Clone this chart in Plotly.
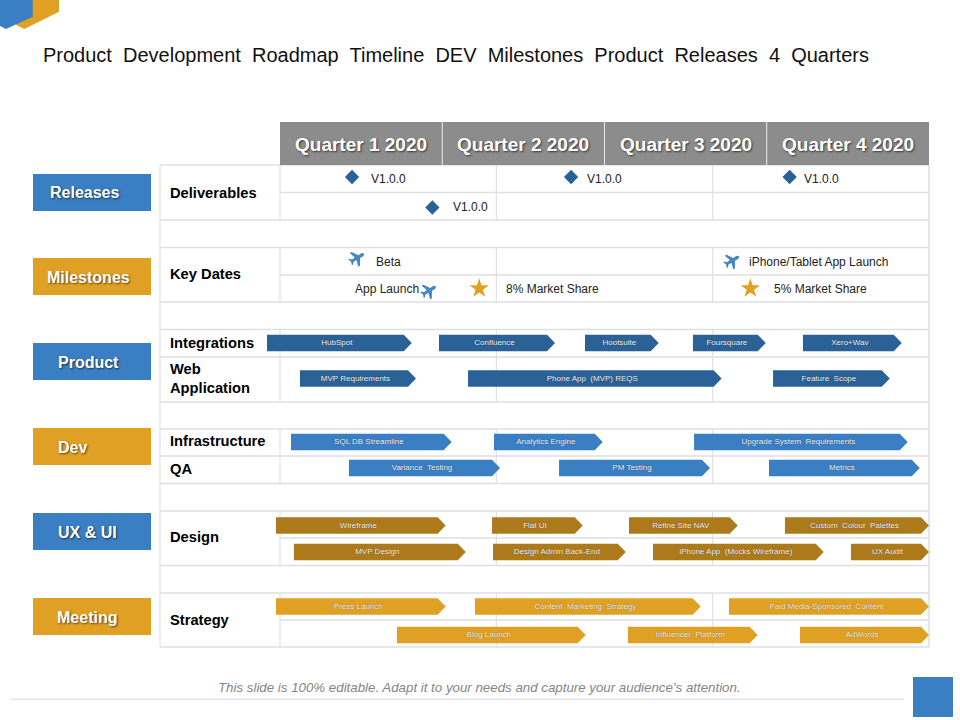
import math
import plotly.graph_objects as go

# quarters across the timeline
quarters = ["Quarter 1 2020", "Quarter 2 2020", "Quarter 3 2020", "Quarter 4 2020"]

# workstreams on the left
streams = ["Releases", "Milestones", "Product", "Dev", "UX &amp; UI", "Meeting"]
row_names = ["Deliverables", "Key Dates", "Integrations", "Web<br>Application", "Infrastructure", "QA", "Design", "Strategy"]

# tasks, start and end are in quarters from the start of 2020
task_names = [
    "HubSpot", "Confluence", "Hootsuite", "Foursquare", "Xero+Wav",
    "MVP Requirements", "Phone App  (MVP) REQS", "Feature  Scope",
    "SQL DB Streamline", "Analytics Engine", "Upgrade System  Requirements",
    "Variance  Testing", "PM Testing", "Metrics",
    "Wireframe", "Flat UI", "Refine Site NAV", "Custom  Colour  Palettes",
    "MVP Design", "Design Admin Back-End", "iPhone App  (Mocks Wireframe)", "UX Audit",
    "Press Launch", "Content  Marketing  Strategy", "Paid Media-Sponsored  Content",
    "Blog Launch", "Influencer  Platform", "AdWords",
]
task_start = [
    -0.080, 0.980, 1.880, 2.545, 3.223,
    0.123, 1.159, 3.039,
    0.068, 1.319, 2.552,
    0.425, 1.720, 3.014,
    -0.025, 1.307, 2.151, 3.112,
    0.086, 1.313, 2.299, 3.519,
    -0.025, 1.202, 2.767,
    0.721, 2.145, 3.205,
]
task_end = [
    0.812, 1.695, 2.334, 2.994, 3.832,
    0.838, 2.722, 3.758,
    1.058, 1.989, 3.869,
    1.356, 2.650, 3.943,
    1.021, 1.866, 2.821, 4.0,
    1.145, 2.131, 3.351, 4.0,
    1.021, 2.593, 4.0,
    1.884, 2.944, 4.0,
]
task_lane = [
    "Integrations", "Integrations", "Integrations", "Integrations", "Integrations",
    "Web", "Web", "Web",
    "Infrastructure", "Infrastructure", "Infrastructure",
    "QA", "QA", "QA",
    "Design A", "Design A", "Design A", "Design A",
    "Design B", "Design B", "Design B", "Design B",
    "Strategy A", "Strategy A", "Strategy A",
    "Strategy B", "Strategy B", "Strategy B",
]

# milestones
diamond_at = [0.444, 0.939, 1.794, 3.141]
diamond_lane = ["Deliver A", "Deliver B", "Deliver A", "Deliver A"]
diamond_text = ["V1.0.0", "V1.0.0", "V1.0.0", "V1.0.0"]
diamond_text_at = [0.561, 1.066, 1.892, 3.230]

plane_at = [0.475, 0.918, 2.786]
plane_lane = ["Key A", "Key B", "Key A"]
plane_text = ["Beta", "App Launch", "iPhone/Tablet App Launch"]
plane_text_at = [0.592, 0.462, 2.891]

star_at = [1.228, 2.899]
star_lane = ["Key B", "Key B"]
star_text = ["8% Market Share", "5% Market Share"]
star_text_at = [1.392, 3.046]

# layout of the slide, in pixels of the 960x720 page
X_Q0 = 280
Q_W = 162.25
RIGHT = 929
lane_y = {
    "Deliver A": 177, "Deliver B": 207.5, "Key A": 260, "Key B": 288.5,
    "Integrations": 343, "Web": 378.5, "Infrastructure": 442, "QA": 468,
    "Design A": 525.5, "Design B": 552, "Strategy A": 606.5, "Strategy B": 635,
}
lane_color = {
    "Integrations": "#2A6196", "Web": "#2A6196", "Infrastructure": "#3A7EC3", "QA": "#3A7EC3",
    "Design A": "#AD7A1B", "Design B": "#AD7A1B", "Strategy A": "#E0A024", "Strategy B": "#E0A024",
}
plane_nudge = [-2, 2.2, 0.7]
BLUE = "#3A7EC3"
GOLD = "#E0A024"
GRID = "#DEDFE0"
FONT = "Liberation Sans"

stream_top = [174, 258, 343, 428, 513, 598]
stream_color = [BLUE, GOLD, BLUE, GOLD, BLUE, GOLD]
stream_text_x = [84, 88, 88, 72, 87, 87]
row_label_y = [193, 274, 343, 378, 441, 469, 537, 620]

# horizontal rules: y, left end
rules = [
    (165, 160), (192.5, 280), (220, 160), (247.5, 160), (275, 280), (302, 160),
    (329.5, 160), (357, 160), (402, 160), (429, 160), (456, 160), (483.5, 160),
    (511, 160), (538, 280), (565.5, 160), (593, 160), (620, 280), (647, 160),
]
# stretches of the table that carry the inner column lines
col_spans = [(165, 220), (247.5, 302), (329.5, 402), (429, 483.5), (511, 565.5), (593, 647)]


def q(px):
    return (px - X_Q0) / Q_W


def px_x(v):
    return v / 960


def px_y(v):
    return 1 - v / 720


def paper_path(points):
    return "M" + " L".join(f"{px_x(a):.5f},{px_y(b):.5f}" for a, b in points) + " Z"


def text_note(x, y, text, size, color, xref="paper", yref="paper", xanchor="center", bold=False, italic=False, shadow=None):
    font = dict(family=FONT, size=size, color=color)
    if bold:
        font["weight"] = "bold"
    if italic:
        font["style"] = "italic"
    if shadow:
        font["shadow"] = shadow
    # left anchored notes sit 2px in from their x because of the box padding
    return dict(x=x, y=y, xref=xref, yref=yref, text=text, showarrow=False, font=font,
                xanchor=xanchor, yanchor="middle", align="left", xshift=-2 if xanchor == "left" else 0)


fig = go.Figure()
shapes = []
notes = []

# logo in the corner, gold goes under the blue
shapes.append(dict(type="path", xref="paper", yref="paper", line_width=0, fillcolor=GOLD,
                   path=paper_path([(28, 0), (59, 0), (59, 11.7), (24.3, 29), (16, 25)])))
shapes.append(dict(type="path", xref="paper", yref="paper", line_width=0, fillcolor=BLUE,
                   path=paper_path([(0, 0), (32.7, 0), (32.7, 16.7), (6, 29), (0, 26)])))

notes.append(text_note(px_x(455.5), px_y(55),
                       "Product\u00a0 Development\u00a0 Roadmap\u00a0 Timeline\u00a0 DEV\u00a0 Milestones\u00a0 Product\u00a0 Releases\u00a0 4\u00a0 Quarters",
                       20, "#111111"))

# quarter header
for i, name in enumerate(quarters):
    shapes.append(dict(type="rect", xref="x", yref="y", x0=i, x1=i + 1, y0=122, y1=165,
                       fillcolor="#8C8C8C", line=dict(width=0)))
    notes.append(text_note(i + 0.5, 144, name, 19, "white", "x", "y", bold=True,
                           shadow="1px 1px 2px rgba(0,0,0,0.6)"))
for i in range(1, len(quarters)):
    shapes.append(dict(type="line", xref="x", yref="y", x0=i, x1=i, y0=122, y1=165,
                       line=dict(color="#E8E8E8", width=1)))

# table lines
for y, left in rules:
    shapes.append(dict(type="line", xref="x", yref="y", x0=q(left), x1=q(RIGHT), y0=y, y1=y,
                       line=dict(color=GRID, width=1.3), layer="below"))
shapes.append(dict(type="line", xref="x", yref="y", x0=q(160), x1=q(160), y0=165, y1=647,
                   line=dict(color=GRID, width=1.1), layer="below"))
shapes.append(dict(type="line", xref="x", yref="y", x0=q(RIGHT), x1=q(RIGHT), y0=165, y1=647,
                   line=dict(color="#E6E6E6", width=2), layer="below"))
for y0, y1 in col_spans:
    for x in [0, 4 / 3, 8 / 3]:
        shapes.append(dict(type="line", xref="x", yref="y", x0=x, x1=x, y0=y0, y1=y1,
                           line=dict(color=GRID, width=1.1), layer="below"))

# workstream boxes and row names
for i, name in enumerate(streams):
    shapes.append(dict(type="rect", xref="paper", yref="paper", x0=px_x(33), x1=px_x(151),
                       y0=px_y(stream_top[i]), y1=px_y(stream_top[i] + 37),
                       fillcolor=stream_color[i], line=dict(width=0)))
    notes.append(text_note(px_x(stream_text_x[i]), px_y(stream_top[i] + 19), name, 16, "white", bold=True,
                           shadow="1px 1px 2px rgba(0,0,0,0.6)"))
for i, name in enumerate(row_names):
    notes.append(text_note(px_x(170), px_y(row_label_y[i]), name, 14.7, "black", xanchor="left", bold=True))

# task arrows
TIP = 8 / Q_W
HALF = 8.3
for name, start, end, lane in zip(task_names, task_start, task_end, task_lane):
    cy = lane_y[lane]
    fig.add_trace(go.Scatter(
        x=[start, end - TIP, end, end - TIP, start, start],
        y=[cy - HALF, cy - HALF, cy, cy + HALF, cy + HALF, cy - HALF],
        mode="lines", fill="toself", fillcolor=lane_color[lane],
        line=dict(width=0), hoverinfo="skip", showlegend=False,
    ))
fig.add_trace(go.Scatter(
    x=[(s + e) / 2 - 2.5 / Q_W for s, e in zip(task_start, task_end)],
    y=[lane_y[l] for l in task_lane],
    text=task_names, mode="text", hoverinfo="skip", showlegend=False,
    textfont=dict(family=FONT, size=8, color="#F4F4F4", shadow="0px 0px 1px rgba(0,0,0,0.5)"),
))

# diamonds
fig.add_trace(go.Scatter(x=diamond_at, y=[lane_y[l] for l in diamond_lane], mode="markers",
                         marker=dict(symbol="diamond", size=11, color="#2A6196"),
                         hoverinfo="skip", showlegend=False))
for x, lane, label in zip(diamond_text_at, diamond_lane, diamond_text):
    notes.append(text_note(x, lane_y[lane] + 2.3 if lane == "Deliver A" else lane_y[lane] - 0.8, label, 12, "#222222",
                           "x", "y", xanchor="left"))

# stars
fig.add_trace(go.Scatter(x=star_at, y=[lane_y[l] for l in star_lane], mode="markers",
                         marker=dict(symbol="star", size=14.5, color=GOLD),
                         hoverinfo="skip", showlegend=False))
for x, lane, label in zip(star_text_at, star_lane, star_text):
    notes.append(text_note(x, lane_y[lane], label, 12, "#222222", "x", "y", xanchor="left"))

# planes, outline drawn nose up then turned to the heading
plane_outline = [
    (0, -8.5), (1.7, -6.5), (1.7, -2.5), (8, 1.5), (8, 3.6), (1.7, 1.6), (1.4, 5), (3.4, 6.8), (3.4, 8.2),
    (0, 7), (-3.4, 8.2), (-3.4, 6.8), (-1.4, 5), (-1.7, 1.6), (-8, 3.6), (-8, 1.5), (-1.7, -2.5), (-1.7, -6.5),
]
HEADING = math.radians(58)
for at, lane, label, label_at, nudge in zip(plane_at, plane_lane, plane_text, plane_text_at, plane_nudge):
    cy = lane_y[lane] + nudge
    xs = [at + (a * math.cos(HEADING) - b * math.sin(HEADING)) / Q_W for a, b in plane_outline]
    ys = [cy + a * math.sin(HEADING) + b * math.cos(HEADING) for a, b in plane_outline]
    fig.add_trace(go.Scatter(x=xs + xs[:1], y=ys + ys[:1], mode="lines", fill="toself", fillcolor="#4587C4",
                             line=dict(width=0), hoverinfo="skip", showlegend=False))
    notes.append(text_note(label_at, lane_y[lane] + 1.5 if lane == "Key A" else lane_y[lane], label, 12, "#222222",
                           "x", "y", xanchor="left"))

# footer
notes.append(text_note(px_x(479.5), px_y(687),
                       "This slide is 100% editable. Adapt it to your needs and capture your audience\u2019s attention.",
                       13.3, "#858585", italic=True))
shapes.append(dict(type="line", xref="paper", yref="paper", x0=px_x(11), x1=px_x(904), y0=px_y(699.3), y1=px_y(699.3),
                   line=dict(color="#D9D9D9", width=1)))
shapes.append(dict(type="rect", xref="paper", yref="paper", x0=px_x(913), x1=px_x(953), y0=px_y(677), y1=px_y(717),
                   fillcolor=BLUE, line=dict(width=0)))

fig.update_layout(
    width=960, height=720,
    margin=dict(l=0, r=0, t=0, b=0),
    paper_bgcolor="white", plot_bgcolor="white",
    shapes=shapes, annotations=notes, showlegend=False,
    xaxis=dict(range=[q(0), q(960)], visible=False, fixedrange=True),
    yaxis=dict(range=[720, 0], visible=False, fixedrange=True),
)

fig.write_html("out.html", config=dict(displayModeBar=False), post_script="document.body.style.margin='0';")
